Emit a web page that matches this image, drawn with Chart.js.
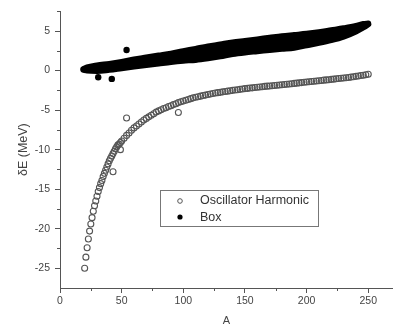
<!DOCTYPE html>
<html>
<head>
<meta charset="utf-8">
<script src="https://cdn.jsdelivr.net/npm/chart.js@4"></script>
<style>
  html, body { margin: 0; padding: 0; background: #fff; }
  #wrap { width: 398px; height: 324px; position: relative; }
</style>
</head>
<body>
<div id="wrap"><canvas id="chart"></canvas></div>
<script>
"use strict";
// oscillator harmonic series (A, deltaE)
const oscA = [20, 21, 22, 23, 24, 25, 26, 27, 28, 29, 30, 31, 32, 33, 34, 35, 36, 37, 38, 39,
  40, 41, 42, 43, 44, 45, 46, 47, 48, 49, 50,
  52, 54, 56, 58, 60, 62, 64, 66, 68, 70, 72, 74, 76, 78, 80, 82, 84, 86, 88, 90, 92, 94, 96, 98, 100,
  102, 104, 106, 108, 110, 112, 114, 116, 118, 120, 122, 124, 126, 128, 130, 132, 134, 136, 138, 140,
  142, 144, 146, 148, 150, 152, 154, 156, 158, 160, 162, 164, 166, 168, 170, 172, 174, 176, 178, 180,
  182, 184, 186, 188, 190, 192, 194, 196, 198, 200, 202, 204, 206, 208, 210, 212, 214, 216, 218, 220,
  222, 224, 226, 228, 230, 232, 234, 236, 238, 240, 242, 244, 246, 248, 250];
const oscE = [-25.0, -23.6, -22.4, -21.3, -20.3, -19.4, -18.6, -17.8, -17.1, -16.5, -15.9, -15.3, -14.8, -14.3, -13.9, -13.4, -13.0, -12.6, -12.2, -11.8,
  -11.4, -11.1, -10.8, -10.5, -10.2, -9.9, -9.65, -9.4, -9.3, -9.1, -8.9,
  -8.55, -8.2, -7.9, -7.55, -7.25, -7.0, -6.75, -6.5, -6.25, -6.05, -5.85, -5.65, -5.45, -5.25, -5.1, -4.95, -4.8, -4.7, -4.55, -4.45, -4.3, -4.2, -4.05, -3.95, -3.85,
  -3.75, -3.65, -3.55, -3.45, -3.37, -3.3, -3.23, -3.16, -3.1, -3.03, -2.97, -2.9, -2.84, -2.79, -2.75, -2.69, -2.64, -2.6, -2.55, -2.5,
  -2.46, -2.42, -2.37, -2.32, -2.28, -2.25, -2.21, -2.18, -2.14, -2.1, -2.07, -2.04, -2.0, -1.97, -1.94, -1.91, -1.88, -1.85, -1.82, -1.79,
  -1.76, -1.72, -1.69, -1.66, -1.62, -1.59, -1.55, -1.52, -1.48, -1.45, -1.41, -1.38, -1.35, -1.31, -1.28, -1.25, -1.21, -1.18, -1.15, -1.11,
  -1.08, -1.04, -1.0, -0.97, -0.94, -0.9, -0.87, -0.82, -0.77, -0.73, -0.68, -0.63, -0.58, -0.52, -0.47];
const oscOutA = [43, 49, 54, 96];
const oscOutE = [-12.8, -10.0, -6.0, -5.3];

// box series: band of points (upper / lower edge) plus stray points
const boxA = [19, 22, 30, 40, 50, 60, 70, 80, 90, 100, 110, 120, 130, 140, 150, 160, 170, 180, 190, 200, 210, 220, 230, 240, 246, 250];
const boxTop = [0.2, 0.4, 0.65, 0.85, 1.1, 1.4, 1.65, 1.9, 2.15, 2.45, 2.75, 3.05, 3.3, 3.55, 3.75, 3.95, 4.15, 4.35, 4.5, 4.65, 4.85, 5.1, 5.35, 5.65, 5.9, 5.95];
const boxBottom = [0.1, 0.0, -0.05, 0.1, 0.3, 0.5, 0.7, 0.9, 1.1, 1.25, 1.35, 1.55, 1.8, 2.1, 2.3, 2.45, 2.6, 2.75, 2.9, 3.2, 3.5, 3.85, 4.3, 4.95, 5.45, 5.85];
const boxOutA = [31, 42, 54];
const boxOutE = [-0.85, -1.05, 2.6];

// axis ticks
const xMajor = [0, 50, 100, 150, 200, 250];
const xMinor = [25, 75, 125, 175, 225];
const yMajor = [-25, -20, -15, -10, -5, 0, 5];
const yMinor = [-22.5, -17.5, -12.5, -7.5, -2.5, 2.5, 7.5];

const axisColor = "#555";
const oscColor = "#555";
const pts = (xs, ys) => xs.map((x, i) => ({ x: x, y: ys[i] }));

const minorTicks = {
  id: "minorTicks",
  afterDraw(chart) {
    const { ctx, scales: { x, y } } = chart;
    ctx.save();
    ctx.strokeStyle = axisColor;
    ctx.lineWidth = 1;
    ctx.beginPath();
    xMinor.forEach((v) => {
      const px = Math.round(x.getPixelForValue(v)) + 0.5;
      ctx.moveTo(px, x.top);
      ctx.lineTo(px, x.top + 3);
    });
    yMinor.forEach((v) => {
      const py = Math.round(y.getPixelForValue(v)) + 0.5;
      ctx.moveTo(y.right, py);
      ctx.lineTo(y.right - 3, py);
    });
    ctx.stroke();
    ctx.restore();
  },
};

const boxLegend = {
  id: "boxLegend",
  afterDraw(chart) {
    const ctx = chart.ctx;
    ctx.save();
    ctx.strokeStyle = "#777";
    ctx.lineWidth = 1;
    ctx.strokeRect(160.5, 190.5, 158, 36);
    ctx.beginPath();
    ctx.arc(180, 201, 2.3, 0, Math.PI * 2);
    ctx.strokeStyle = oscColor;
    ctx.stroke();
    ctx.beginPath();
    ctx.arc(180, 217, 2.6, 0, Math.PI * 2);
    ctx.fillStyle = "#000";
    ctx.fill();
    ctx.fillStyle = "#333";
    ctx.font = "12.5px 'Liberation Sans', Arial, sans-serif";
    ctx.textBaseline = "middle";
    ctx.fillText(chart.data.datasets[0].label, 200, 201);
    ctx.fillText(chart.data.datasets[3].label, 200, 217.5);
    ctx.restore();
  },
};

const ctx = document.getElementById("chart");
const chart = new Chart(ctx, {
  type: "scatter",
  data: {
    datasets: [
      {
        label: "Oscillator Harmonic",
        data: pts(oscA, oscE),
        pointRadius: 3,
        pointBorderWidth: 1.1,
        borderColor: oscColor,
        backgroundColor: "rgba(0,0,0,0)",
      },
      {
        label: "osc-out",
        data: pts(oscOutA, oscOutE),
        pointRadius: 3,
        pointBorderWidth: 1.1,
        borderColor: oscColor,
        backgroundColor: "rgba(0,0,0,0)",
      },
      {
        type: "line",
        label: "box-top",
        data: pts(boxA, boxTop),
        borderColor: "#000",
        borderWidth: 6,
        borderCapStyle: "round",
        borderJoinStyle: "round",
        cubicInterpolationMode: "monotone",
        pointRadius: 0,
        fill: false,
      },
      {
        type: "line",
        label: "Box",
        data: pts(boxA, boxBottom),
        borderColor: "#000",
        backgroundColor: "#000",
        borderWidth: 6,
        borderCapStyle: "round",
        borderJoinStyle: "round",
        cubicInterpolationMode: "monotone",
        pointRadius: 0,
        fill: "-1",
      },
      {
        label: "box-out",
        data: pts(boxOutA, boxOutE),
        pointRadius: 3.2,
        borderWidth: 0,
        backgroundColor: "#000",
      },
    ],
  },
  options: {
    responsive: true,
    maintainAspectRatio: false,
    animation: false,
    layout: { padding: { top: 8, right: 1, left: 0, bottom: 0 } },
    plugins: {
      legend: { display: false },
      tooltip: { enabled: false },
    },
    scales: {
      x: {
        type: "linear",
        min: 0,
        max: 270,
        afterBuildTicks: (scale) => {
          scale.ticks = xMajor.map((v) => ({ value: v }));
        },
        afterFit: (scale) => {
          scale.height = 36;
        },
        border: { display: true, color: axisColor, width: 1 },
        grid: { drawOnChartArea: false, drawTicks: true, tickLength: 5, tickColor: axisColor },
        ticks: {
          color: "#444",
          padding: 2,
          maxRotation: 0,
          font: { family: "'Liberation Sans', Arial, sans-serif", size: 10.5 },
        },
        title: {
          display: true,
          text: "A",
          color: "#444",
          padding: 0,
          font: { family: "'Liberation Sans', Arial, sans-serif", size: 11, lineHeight: 0.6 },
        },
      },
      y: {
        type: "linear",
        min: -27.5,
        max: 7.5,
        afterBuildTicks: (scale) => {
          scale.ticks = yMajor.map((v) => ({ value: v }));
        },
        afterFit: (scale) => {
          scale.width = 60;
        },
        border: { display: true, color: axisColor, width: 1 },
        grid: { drawOnChartArea: false, drawTicks: true, tickLength: 5, tickColor: axisColor },
        ticks: {
          color: "#444",
          padding: 5,
          font: { family: "'Liberation Sans', Arial, sans-serif", size: 10.5 },
        },
        title: {
          display: true,
          text: "δE (MeV)",
          color: "#444",
          padding: { top: 16, bottom: 0 },
          font: { family: "'Liberation Sans', Arial, sans-serif", size: 12.5 },
        },
      },
    },
  },
  plugins: [minorTicks, boxLegend],
});
</script>
</body>
</html>
